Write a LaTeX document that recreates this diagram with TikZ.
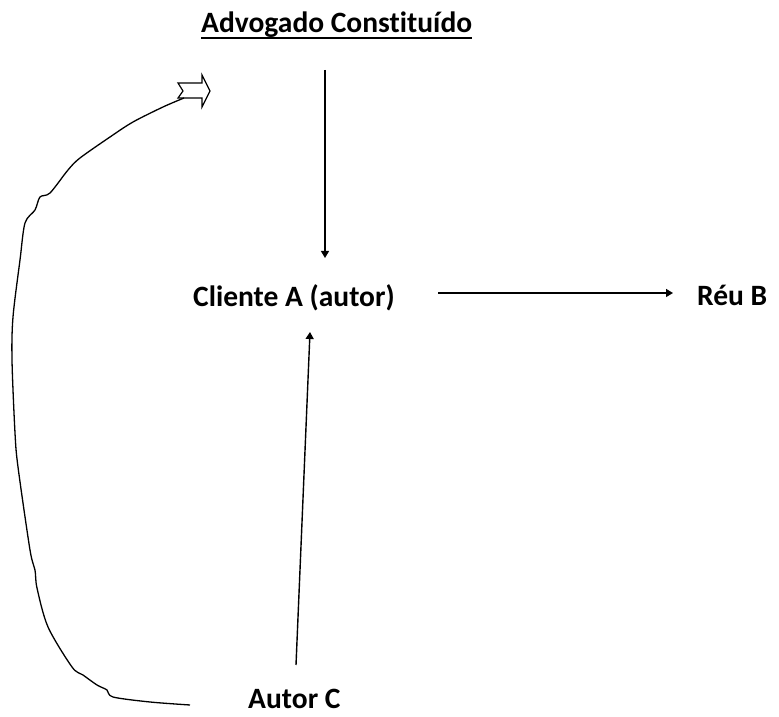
\documentclass[tikz,border=0pt]{standalone}
\usepackage{fontspec}
\setmainfont{Carlito}[Ligatures=NoCommon]
\usetikzlibrary{arrows.meta}
\begin{document}
\begin{tikzpicture}[x=1pt,y=1pt,
  lbl/.style={font=\bfseries\fontsize{29.5}{34}\selectfont, inner sep=0pt, anchor=base west},
  conn/.style={line width=1.4pt, -{Triangle[length=7pt,width=8pt]}},
  curve/.style={line width=1.3pt, line join=round}]
\useasboundingbox (0,0) rectangle (779,717);
% nodes
\node[lbl] (adv) at (201,684) {Advogado Constituído};
\draw[line width=2.2pt] ([yshift=-5pt]adv.base west) -- ([yshift=-5pt]adv.base east);
\node[lbl] (cli) at (193,410) {Cliente A (autor)};
\node[lbl] (reu) at (697,411) {Réu B};
\node[lbl] (aut) at (248,8) {Autor C};
% connector endpoints
\coordinate (a1) at (325,647);
\coordinate (a2) at (325,459);
\coordinate (b1) at (438,424);
\coordinate (b2) at (673,424);
\coordinate (c1) at (296,52);
\coordinate (c2) at (310,385);
\draw[conn] (a1) -- (a2);
\draw[conn] (b1) -- (b2);
\draw[conn] (c1) -- (c2);
% block arrow
\coordinate (bt) at (183,626);
\draw[line width=1.2pt, line join=miter, fill=white]
  (178,634) -- (202,634) -- (202,642) -- (210,626) -- (202,610) -- (202,619) -- (178,619) -- (bt) -- cycle;
% curved connector
\draw[curve] plot[smooth, tension=0.5] coordinates {
 (184,619) (163,610) (133,595) (110,580) (80,559) (68,547) (50,524) (40,520)
 (35,507) (25,494) (20,457) (13,400) (12,357) (15,284) (18,250) (30,167)
 (35,147) (37,129) (48,90) (72,50) (83,42) (97,32) (107,27) (113,20)
 (150,15) (190,12)};
\end{tikzpicture}
\end{document}
